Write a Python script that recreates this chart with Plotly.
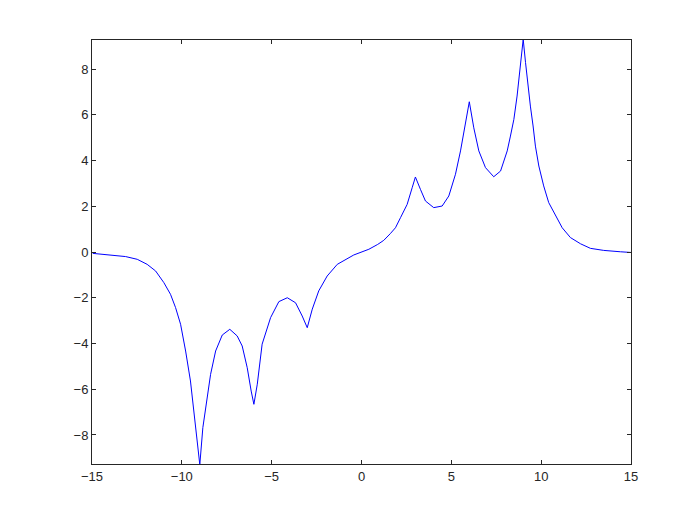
import plotly.graph_objects as go

# values
x_neg = [-14.96, -14.06, -13.13, -12.48, -11.93, -11.46, -11.0, -10.63, -10.35,
         -10.07, -9.79, -9.52, -9.33, -9.14, -9.0, -8.83, -8.68, -8.4, -8.12,
         -7.75, -7.33, -6.92, -6.64, -6.36, -6.14, -5.99, -5.8, -5.53, -5.06,
         -4.6, -4.13, -3.67, -3.3, -3.02, -2.74, -2.38, -1.91, -1.35, -0.43]
y_neg = [-0.06, -0.13, -0.2, -0.32, -0.54, -0.83, -1.34, -1.85, -2.43,
         -3.16, -4.33, -5.64, -6.95, -8.26, -9.3, -7.68, -6.88, -5.35, -4.33,
         -3.63, -3.38, -3.67, -4.11, -5.06, -6.08, -6.66, -5.78, -4.03, -2.87,
         -2.17, -2.0, -2.22, -2.8, -3.31, -2.5, -1.7, -1.05, -0.54, -0.13]

x_pos = [0.41, 0.9, 1.24, 1.6, 1.89, 2.17, 2.54, 2.82, 3.0, 3.28, 3.56, 4.02,
         4.49, 4.86, 5.23, 5.51, 5.79, 6.0, 6.25, 6.53, 6.9, 7.36, 7.74, 8.11,
         8.29, 8.48, 8.66, 8.81, 8.94, 9.0, 9.13, 9.26, 9.4, 9.55, 9.68, 9.87,
         10.14, 10.42, 10.89, 11.17, 11.63, 12.19, 12.74, 13.48, 14.41, 15.0]
y_pos = [0.12, 0.33, 0.51, 0.8, 1.06, 1.5, 2.08, 2.81, 3.28, 2.74, 2.23, 1.94,
         2.01, 2.45, 3.4, 4.42, 5.58, 6.57, 5.43, 4.42, 3.69, 3.29, 3.54, 4.42,
         5.07, 5.8, 6.82, 7.84, 8.71, 9.3, 8.28, 7.26, 6.38, 5.51, 4.63, 3.76,
         2.89, 2.16, 1.43, 1.06, 0.63, 0.36, 0.16, 0.07, 0.01, -0.02]

x_ticks = [-15, -10, -5, 0, 5, 10, 15]
y_ticks = [-8, -6, -4, -2, 0, 2, 4, 6, 8]

trace = go.Scatter(x=x_neg + x_pos, y=y_neg + y_pos, mode='lines',
                   line=dict(color='#0000ff', width=1), showlegend=False)

axis_style = dict(showgrid=False, zeroline=False, showline=True, mirror='ticks',
                  linecolor='#262626', linewidth=1, ticks='inside', ticklen=4,
                  tickcolor='#262626', tickfont=dict(family='Liberation Sans', size=13,
                                                     color='#262626'))

layout = go.Layout(
    width=697, height=523,
    margin=dict(l=84, r=74, t=32, b=67),
    paper_bgcolor='white', plot_bgcolor='white',
    xaxis=dict(range=[-15, 15], tickvals=x_ticks, **axis_style),
    yaxis=dict(range=[-9.27, 9.27], tickvals=y_ticks, **axis_style),
)

fig = go.Figure(data=[trace], layout=layout)
fig.write_html("out.html")
